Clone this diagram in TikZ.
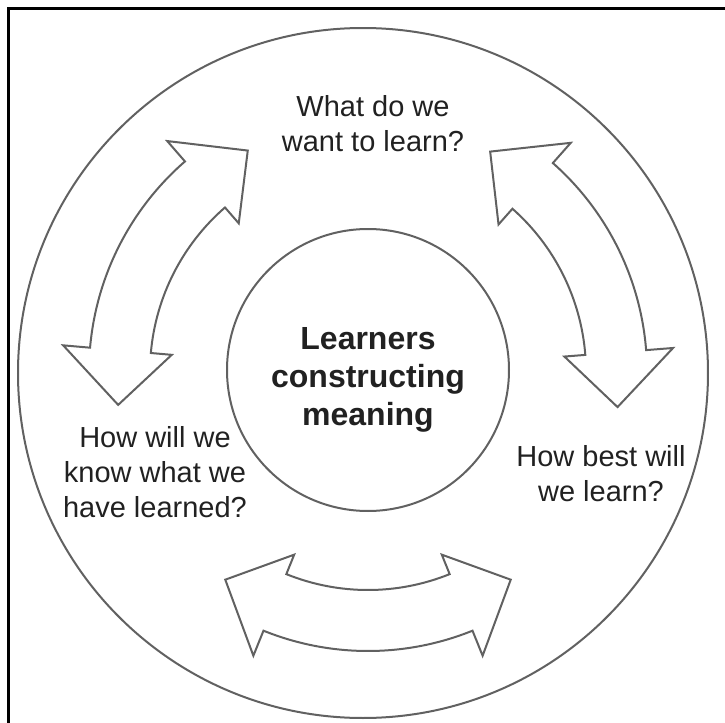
\documentclass[tikz,border=0pt]{standalone}
\usepackage{fontspec}
\setmainfont{Liberation Sans}
\usetikzlibrary{calc, positioning}

\begin{document}
\begin{tikzpicture}[x=0.5pt, y=0.5pt,
  ring/.style={draw=black!62, line width=1pt, line join=miter},
  question/.style={align=center, text=black!87, inner sep=0pt, font=\fontsize{14.5}{17.5}\selectfont},
  corelabel/.style={align=center, text=black!87, inner sep=0pt, font=\bfseries\fontsize{16}{19}\selectfont}]
  \useasboundingbox (0,0) rectangle (725,-723);

  % Frame (only top and left edges show)
  \draw[line width=1.2pt] (8.5,-723) |- (725,-8.5);

  % Centre of the cycle
  \coordinate (c) at (368,-372);

  % Outer and inner circles
  \draw[ring] (363,-373) circle[radius=345];
  \node[ring, circle, minimum size=141pt, inner sep=0pt] (hub) at (368,-370) {};
  \node[corelabel] (core) at (368,-380) {Learners\\constructing\\meaning};

  % Questions
  \node[question] (want) at (373,-124) {What do we\\want to learn?};
  \node[question] (best) at (601,-474) {How best will\\we learn?};
  \node[question] (know) at (155,-472) {How will we\\know what we\\have learned?};

  % Double-headed curved arrows
  \foreach \m in {153,26.5,270} {
    \draw[ring] ($(c)+({\m-22}:218)$) arc[start angle=\m-22, end angle=\m+22, radius=218]
      -- ($(c)+({\m+22}:197)$) -- ($(c)+({\m+34.5}:252)$) -- ($(c)+({\m+22}:306)$)
      -- ($(c)+({\m+22}:279)$) arc[start angle=\m+22, end angle=\m-22, radius=279]
      -- ($(c)+({\m-22}:306)$) -- ($(c)+({\m-34.5}:252)$) -- ($(c)+({\m-22}:197)$) -- cycle;
  }

\end{tikzpicture}
\end{document}
